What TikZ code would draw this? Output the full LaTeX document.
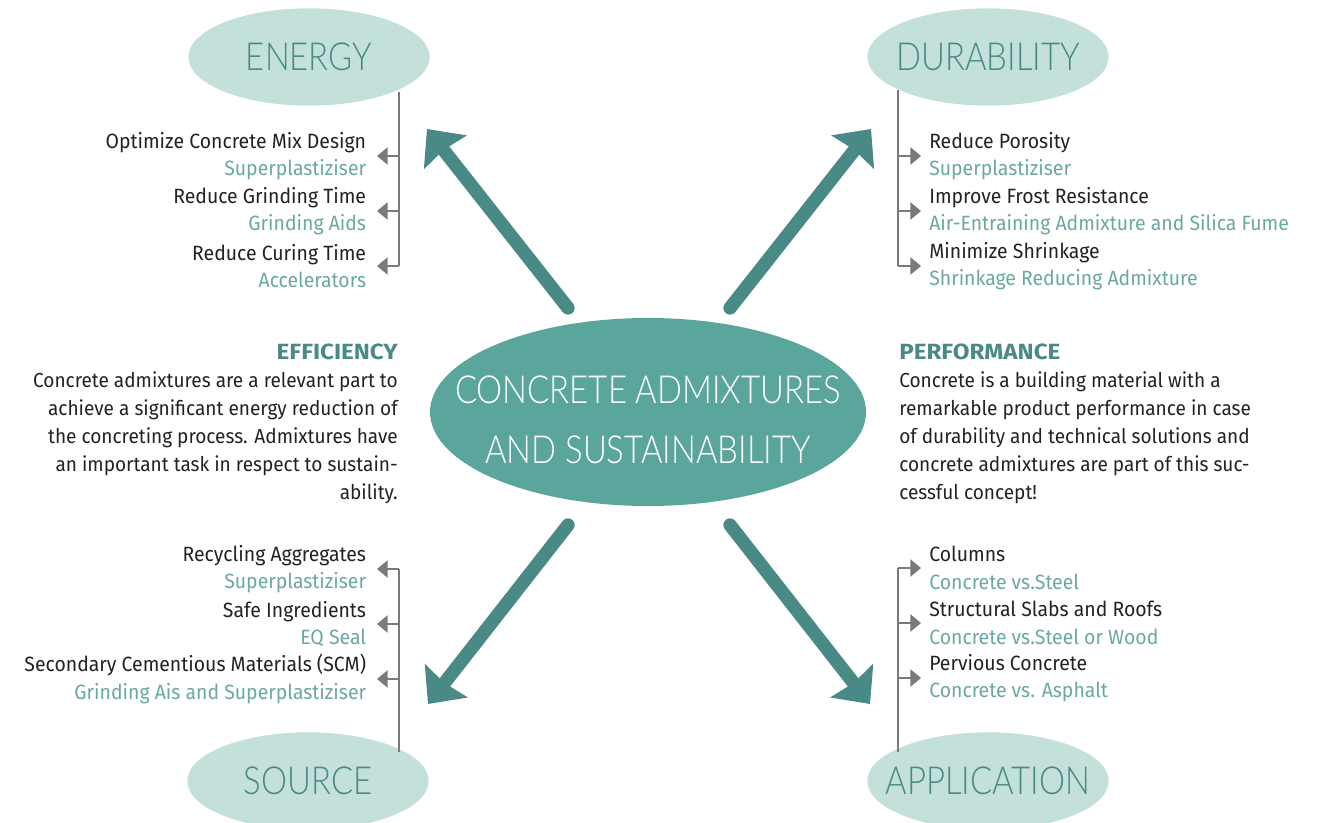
\documentclass[tikz,border=0pt]{standalone}
\usepackage{fontspec}
\setmainfont{Fira Sans}[FakeStretch=0.94]
\newfontfamily\thinfont{Lato Light}[FakeStretch=0.85]
\usetikzlibrary{arrows.meta, shapes.geometric}
\definecolor{hubteal}{HTML}{5BA69C}
\definecolor{deepteal}{HTML}{4A8A86}
\definecolor{paleteal}{HTML}{C4E0DA}
\definecolor{softteal}{HTML}{6AA8A1}
\definecolor{ink}{HTML}{222222}
\definecolor{spinegray}{HTML}{7A7A7A}
\newcommand\headline[1]{\textcolor{deepteal}{\bfseries\addfontfeatures{FakeStretch=1.1}\fontsize{16.5}{21}\selectfont #1}}

\begin{document}
\begin{tikzpicture}[x=.75pt, y=-.75pt,
    hub/.style={ellipse, fill=hubteal, minimum width=327pt, minimum height=141pt, inner sep=0pt},
    hubtext/.style={text=white, align=center, inner sep=0pt,
      font=\thinfont\fontsize{29}{45}\selectfont},
    pillar/.style={ellipse, fill=paleteal, minimum width=181pt, minimum height=73pt,
      inner xsep=-30pt, inner ysep=0pt, text=deepteal,
      font=\thinfont\fontsize{29}{30}\selectfont},
    item/.style={inner xsep=8pt, inner ysep=0pt, text=ink,
      font=\fontsize{15.5}{20.6}\selectfont},
    blurb/.style={inner sep=0pt, text=ink, font=\fontsize{15.2}{21}\selectfont},
    spine/.style={spinegray, line width=1.1pt},
    tick/.style={spinegray, line width=1.1pt, -{Triangle[length=8pt, width=13pt]}},
    push/.style={deepteal, line width=10pt, line cap=round,
      -{Stealth[length=22pt, width=40pt, inset=2pt]}}]
    \useasboundingbox (0, 0) rectangle (1333, 823);
    % centre and the four pillars
    \node [hub] (hub) at (648, 412) {};
    \node [hubtext] (hubtitle) at (648, 420) {CONCRETE ADMIXTURES\\AND SUSTAINABILITY};
    \node [pillar] (energy) at (309, 57) {ENERGY};
    \node [pillar] (durability) at (988, 57) {DURABILITY};
    \node [pillar] (source) at (308, 781) {SOURCE};
    \node [pillar] (application) at (988, 781) {APPLICATION};
    % big arrows
    \coordinate (nwtail) at (568, 308); \coordinate (nwtip) at (427, 129);
    \coordinate (netail) at (730, 308); \coordinate (netip) at (871, 129);
    \coordinate (swtail) at (568, 525); \coordinate (swtip) at (428, 704);
    \coordinate (setail) at (730, 525); \coordinate (setip) at (870, 704);
    \foreach \a in {nw, ne, sw, se} \draw [push] (\a tail) -- (\a tip);
    % energy list
    \node [item, anchor=east, align=right] (e1) at (377, 156)
      {Optimize Concrete Mix Design\\\textcolor{softteal}{Superplastiziser}};
    \node [item, anchor=east, align=right] (e2) at (377, 211)
      {Reduce Grinding Time\\\textcolor{softteal}{Grinding Aids}};
    \node [item, anchor=east, align=right] (e3) at (377, 266)
      {Reduce Curing Time\\\textcolor{softteal}{Accelerators}};
    \coordinate (etop) at (399, 92);
    \draw [spine] (etop) -- (etop |- e3);
    \foreach \i in {1, 2, 3} \draw [tick] (etop |- e\i) -- (e\i.east);
    % durability list
    \node [item, anchor=west, align=left, inner xsep=6pt] (d1) at (921, 156)
      {Reduce Porosity\\\textcolor{softteal}{Superplastiziser}};
    \node [item, anchor=west, align=left, inner xsep=6pt] (d2) at (921, 211)
      {Improve Frost Resistance\\\textcolor{softteal}{Air-Entraining Admixture and Silica Fume}};
    \node [item, anchor=west, align=left, inner xsep=6pt] (d3) at (921, 266)
      {Minimize Shrinkage\\\textcolor{softteal}{Shrinkage Reducing Admixture}};
    \coordinate (dtop) at (898, 90);
    \draw [spine] (dtop) -- (dtop |- d3);
    \foreach \i in {1, 2, 3} \draw [tick] (dtop |- d\i) -- (d\i.west);
    % source list
    \node [item, anchor=east, align=right] (s1) at (377, 569)
      {Recycling Aggregates\\\textcolor{softteal}{Superplastiziser}};
    \node [item, anchor=east, align=right] (s2) at (377, 624)
      {Safe Ingredients\\\textcolor{softteal}{EQ Seal}};
    \node [item, anchor=east, align=right] (s3) at (377, 679)
      {Secondary Cementious Materials (SCM)\\\textcolor{softteal}{Grinding Ais and Superplastiziser}};
    \coordinate (sbot) at (399, 752);
    \draw [spine] (sbot) -- (sbot |- s1);
    \foreach \i in {1, 2, 3} \draw [tick] (sbot |- s\i) -- (s\i.east);
    % application list
    \node [item, anchor=west, align=left, inner xsep=6pt] (a1) at (921, 568)
      {Columns\\\textcolor{softteal}{Concrete vs.Steel}};
    \node [item, anchor=west, align=left, inner xsep=6pt] (a2) at (921, 623)
      {Structural Slabs and Roofs\\\textcolor{softteal}{Concrete vs.Steel or Wood}};
    \node [item, anchor=west, align=left, inner xsep=6pt] (a3) at (921, 678)
      {Pervious Concrete\\\textcolor{softteal}{Concrete vs. Asphalt}};
    \coordinate (abot) at (898, 752);
    \draw [spine] (abot) -- (abot |- a1);
    \foreach \i in {1, 2, 3} \draw [tick] (abot |- a\i) -- (a\i.west);
    % side texts
    \node [blurb, anchor=east, align=right] (efficiency) at (398, 424)
      {\headline{EFFICIENCY}\\
       Concrete admixtures are a relevant part to\\
       achieve a significant energy reduction of\\
       the concreting process. Admixtures have\\
       an important task in respect to sustain-\\
       ability.};
    \node [blurb, anchor=west, align=left] (performance) at (899, 424)
      {\headline{PERFORMANCE}\\
       Concrete is a building material with a\\
       remarkable product performance in case\\
       of durability and technical solutions and\\
       concrete admixtures are part of this suc-\\
       cessful concept!};
\end{tikzpicture}
\end{document}
